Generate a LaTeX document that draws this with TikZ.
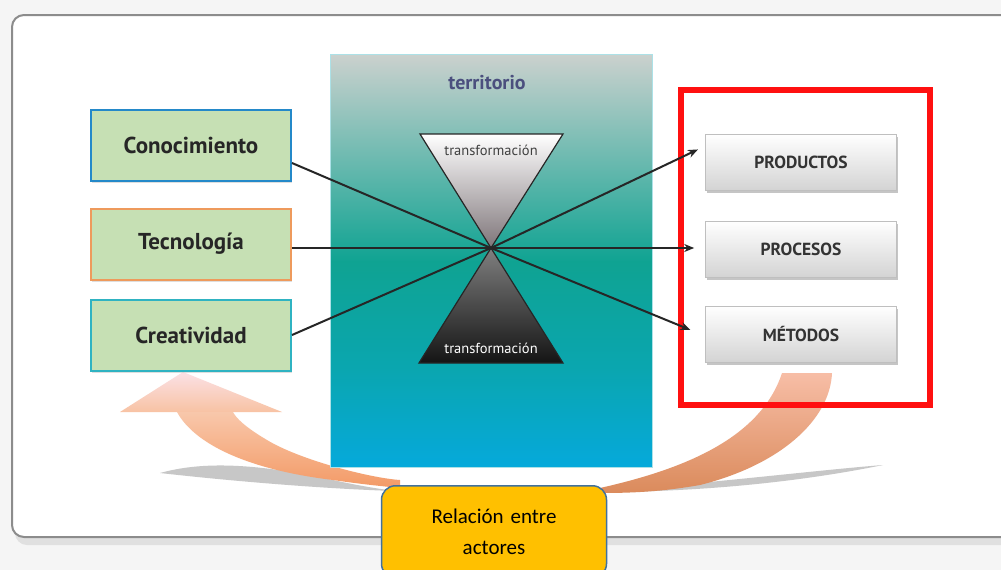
\documentclass[tikz,border=0pt]{standalone}
\usepackage{fontspec}
\setmainfont{PT Sans}
\newfontfamily\calloutfont{Carlito}
\usetikzlibrary{arrows.meta,shadows}

\definecolor{actorfill}{HTML}{C6E0B4}
\definecolor{conborder}{HTML}{2489C9}
\definecolor{tecborder}{HTML}{EE9A5C}
\definecolor{creborder}{HTML}{2FB3C2}
\definecolor{terrtop}{HTML}{CBD1CE}
\definecolor{terrmid}{HTML}{0FA392}
\definecolor{terrlow}{HTML}{0AA6B0}
\definecolor{terrbot}{HTML}{05A9DB}
\definecolor{terrtext}{HTML}{4B4F7E}
\definecolor{hgray}{HTML}{7E7579}
\definecolor{boxred}{HTML}{FF1010}
\definecolor{peach}{HTML}{F39A66}
\definecolor{pinkish}{HTML}{FBE1E6}
\definecolor{callyellow}{HTML}{FFC000}
\definecolor{callblue}{HTML}{41719C}

\begin{document}
\begin{tikzpicture}[x=1pt,y=-1pt,
    actor/.style={draw, line width=2pt, fill=actorfill, minimum width=200pt,
      minimum height=71pt, inner sep=0pt, text=black!85,
      font=\bfseries\fontsize{23}{27}\selectfont,
      drop shadow={shadow xshift=1pt, shadow yshift=-2pt, fill=black!25}},
    result/.style={draw=black!25, line width=0.6pt, top color=white,
      bottom color=black!17, minimum width=191pt, minimum height=56pt,
      inner sep=0pt, text=black!80, font=\bfseries\fontsize{17.5}{20}\selectfont,
      drop shadow={shadow xshift=1pt, shadow yshift=-3pt, fill=black!45}},
    hglabel/.style={font=\fontsize{14.5}{16}\selectfont, inner sep=0pt},
    link/.style={line width=2pt, black!85},
    outlink/.style={link, -{Stealth[length=10pt,width=8pt]}}
  ]
  \useasboundingbox (0,0) rectangle (1001,570);
  \fill[black!4] (0,0) rectangle (1001,570);

  % frame
  \fill[black!12, rounded corners=12pt] (15,20) rectangle (1030,545);
  \draw[black!45, line width=2pt, fill=white, rounded corners=12pt]
    (12,15) rectangle (1030,537);

  % shadows under the arc
  \fill[black!22] (160,473) .. controls (200,462) and (250,462) .. (333,480)
    .. controls (360,486) and (380,489) .. (395,491)
    .. controls (330,489) and (240,482) .. (160,473) -- cycle;
  \fill[black!22] (883,465) .. controls (820,470) and (740,480) .. (600,492)
    .. controls (700,492) and (800,482) .. (883,465) -- cycle;

  % orange arc, left piece
  \shade[top color=pinkish, bottom color=peach!60]
    (183,372) -- (282,412) -- (120,412) -- cycle;
  \shade[top color=peach!55, bottom color=peach]
    (177,412) .. controls (195,445) and (250,470) .. (333,480)
    .. controls (360,484) and (380,486) .. (400,488)
    -- (400,480) .. controls (370,478) and (300,460) .. (267,440)
    .. controls (245,427) and (236,418) .. (233,412) -- cycle;
  % orange arc, right piece
  \shade[top color=pinkish!50!peach, bottom color=peach!90!black]
    (782,373) -- (832,373) .. controls (830,420) and (780,465) .. (700,485)
    .. controls (660,492) and (630,493) .. (600,493)
    -- (600,488) .. controls (680,470) and (760,440) .. (782,373) -- cycle;

  % territorio panel
  \shade[top color=terrtop, bottom color=terrmid] (330,54) rectangle (652,262);
  \shade[top color=terrmid, bottom color=terrlow] (330,261) rectangle (652,370);
  \shade[top color=terrlow, bottom color=terrbot] (330,369) rectangle (652,467);
  \draw[creborder!40] (330,54) rectangle (652,467);
  \node[text=terrtext, font=\bfseries\fontsize{20}{22}\selectfont] (terr)
    at (487,83) {territorio};

  % hourglass
  \shade[top color=white, bottom color=hgray, draw=black!85, line width=1.2pt]
    (420,134) -- (563,134) -- (491,248) -- cycle;
  \shade[top color=black!50, bottom color=black!92, draw=black!85, line width=1.2pt]
    (491,248) -- (563,363) -- (419,363) -- cycle;
  \node[hglabel, text=black!75] (tr1) at (491,150) {transformación};
  \node[hglabel, text=white] (tr2) at (491,348) {transformación};
  \coordinate (ctr) at (491,248);

  % left boxes
  \node[actor, draw=conborder] (con) at (191,145) {Conocimiento};
  \node[actor, draw=tecborder] (tec) at (191,244) {Tecnología};
  \node[actor, draw=creborder] (cre) at (191,335) {Creatividad};

  \draw[link] ([yshift=-18pt]con.east) -- (ctr);
  \draw[link] ([yshift=-4pt]tec.east) -- (ctr);
  \draw[link] (cre.east) -- (ctr);

  % right boxes
  \draw[boxred, line width=6pt] (681,90) rectangle (930,405);
  \node[result] (prod) at (801,162) {PRODUCTOS};
  \node[result] (proc) at (801,249) {PROCESOS};
  \node[result] (met) at (801,334) {MÉTODOS};

  \draw[outlink, shorten >=8pt] (ctr) -- ([yshift=16pt]prod.west);
  \draw[outlink, shorten >=11pt] (ctr) -- ([yshift=1pt]proc.west);
  \draw[outlink, shorten >=16pt] (ctr) -- ([yshift=-2pt]met.west);

  % callout
  \node[draw=callblue, line width=1.5pt, fill=callyellow, rounded corners=14pt,
    minimum width=225pt, minimum height=92pt, text width=200pt, align=center,
    font=\calloutfont\fontsize{21}{31}\selectfont, anchor=north] (rel)
    at (494,485) {Relación entre\\actores};
\end{tikzpicture}
\end{document}
